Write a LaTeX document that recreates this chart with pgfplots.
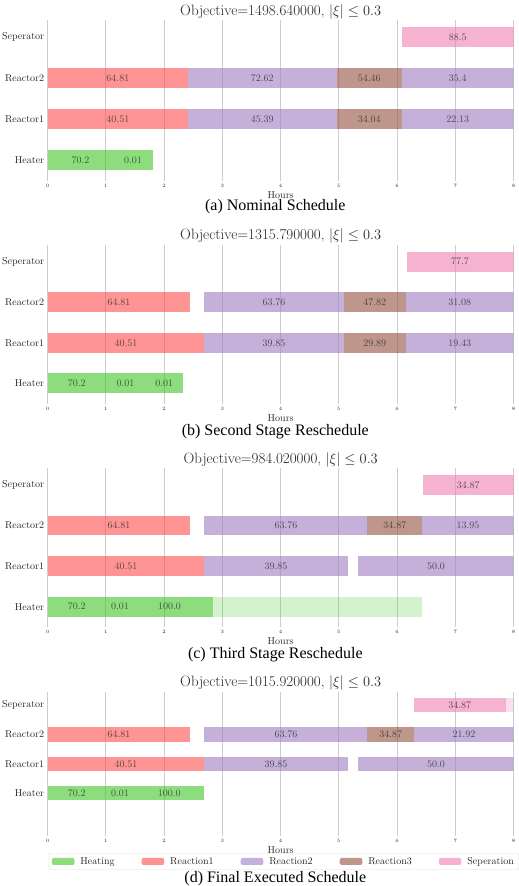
\documentclass[border=0pt]{standalone}
\usepackage{fontspec}
\usepackage{pgfplots}
\pgfplotsset{compat=1.18}
\newfontfamily\capfont{Liberation Serif}

% task colours (drawn at 60% opacity)
\definecolor{cheat}{RGB}{65,197,40}
\definecolor{cr1}{RGB}{255,76,76}
\definecolor{cr2}{RGB}{157,124,190}
\definecolor{cr3}{RGB}{148,80,63}
\definecolor{csep}{RGB}{238,128,177}
\definecolor{txt}{RGB}{38,38,38}
\definecolor{gridc}{RGB}{205,205,205}

\def\bw{19.7pt}
\pgfplotsset{
  seg/.style={forget plot, mark=none, draw=#1, draw opacity=0.6, line width=\bw, line cap=butt},
  patch/.style={legend image code/.code={\fill[draw=none, ##1] (0pt,-3.5pt) rectangle (22.6pt,3.5pt);}},
  gantt/.style={
    scale only axis, width=466pt,
    xmin=0, xmax=8,
    xtick={0,1,...,8}, ytick={0,1,2,3},
    yticklabels={Heater,Reactor1,Reactor2,Seperator},
    xmajorgrids, grid style={gridc, line width=0.9pt},
    axis line style={draw=none},
    major tick length=0pt,
    tick label style={text=txt},
    xticklabel style={font=\fontsize{4}{4}\selectfont},
    yticklabel style={font=\fontsize{10}{12}\selectfont},
    xlabel={Hours},
    xlabel style={font=\fontsize{10}{12}\selectfont, text=txt, inner sep=1pt, yshift=0.5pt},
    title style={font=\fontsize{15}{17}\selectfont, text=txt, at={(0.5,1)}, anchor=center},
  },
  lbl/.style={forget plot, only marks, mark=none, nodes near coords,
    point meta=explicit symbolic, nodes near coords align=center,
    every node near coord/.append style={font=\fontsize{10}{12}\selectfont, text=txt, text opacity=0.75, inner sep=0pt}},
}
% one task: colour, row, start, end
\newcommand\task[4]{\addplot[seg=#1] coordinates {(#3,#2) (#4,#2)};}
\newcommand\capt{\capfont\fontsize{16}{19}\selectfont}
\tikzset{caption/.style={font=\capt, inner sep=0pt}}

\begin{document}
\begin{tikzpicture}
\useasboundingbox (0,0) rectangle (519pt,-886pt);

% ---------------- (a) nominal schedule
\begin{axis}[gantt, at={(47.7pt,-20pt)}, anchor=north west, height=160.5pt,
  ymin=-0.5, ymax=3.42, title style={yshift=1.7pt},
  title={Objective=1498.640000, $|\xi| \leq 0.3$}]
\addplot[lbl] table[meta=t, row sep=\\]{
x y t\\ 0.565 0 70.2\\ 1.465 0 0.01\\
1.205 1 40.51\\ 3.685 1 45.39\\ 5.52 1 34.04\\ 7.04 1 22.13\\
1.205 2 64.81\\ 3.685 2 72.62\\ 5.52 2 54.46\\ 7.04 2 35.4\\
7.04 3 88.5\\
};
\task{cheat}{0}{0}{1.13}
\task{cheat}{0}{1.13}{1.80}
\task{cr1}{1}{0}{2.41}
\task{cr2}{1}{2.41}{4.96}
\task{cr3}{1}{4.96}{6.08}
\task{cr2}{1}{6.08}{8}
\task{cr1}{2}{0}{2.41}
\task{cr2}{2}{2.41}{4.96}
\task{cr3}{2}{4.96}{6.08}
\task{cr2}{2}{6.08}{8}
\task{csep}{3}{6.08}{8}
\end{axis}
\node[caption] at (275.3pt,-207pt) {(a) Nominal Schedule};

% ---------------- (b) second stage
\begin{axis}[gantt, at={(47.7pt,-244.7pt)}, anchor=north west, height=158.9pt,
  ymin=-0.5, ymax=3.42, title style={yshift=3pt},
  title={Objective=1315.790000, $|\xi| \leq 0.3$}]
\addplot[lbl] table[meta=t, row sep=\\]{
x y t\\ 0.5 0 70.2\\ 1.335 0 0.01\\ 2.0 0 0.01\\
1.345 1 40.51\\ 3.885 1 39.85\\ 5.615 1 29.89\\ 7.075 1 19.43\\
1.225 2 64.81\\ 3.885 2 63.76\\ 5.615 2 47.82\\ 7.075 2 31.08\\
7.08 3 77.7\\
};
\task{cheat}{0}{0}{1}
\task{cheat}{0}{1}{1.67}
\task{cheat}{0}{1.67}{2.33}
\task{cr1}{1}{0}{2.69}
\task{cr2}{1}{2.69}{5.08}
\task{cr3}{1}{5.08}{6.15}
\task{cr2}{1}{6.15}{8}
\task{cr1}{2}{0}{2.45}
\task{cr2}{2}{2.69}{5.08}
\task{cr3}{2}{5.08}{6.15}
\task{cr2}{2}{6.15}{8}
\task{csep}{3}{6.16}{8}
\end{axis}
\node[caption] at (275.3pt,-431.3pt) {(b) Second Stage Reschedule};

% ---------------- (c) third stage
\begin{axis}[gantt, at={(47.7pt,-468pt)}, anchor=north west, height=159pt,
  ymin=-0.5, ymax=3.42, title style={yshift=2pt},
  title={Objective=984.020000, $|\xi| \leq 0.3$}]
\addplot[lbl] table[meta=t, row sep=\\]{
x y t\\ 0.5 0 70.2\\ 1.24 0 0.01\\ 2.09 0 100.0\\
1.345 1 40.51\\ 3.92 1 39.85\\ 6.665 1 50.0\\
1.225 2 64.81\\ 4.09 2 63.76\\ 5.96 2 34.87\\ 7.215 2 13.95\\
7.22 3 34.87\\
};
\task{cheat}{0}{0}{1}
\task{cheat}{0}{1}{1.48}
\task{cheat}{0}{1.48}{2.83}
\addplot[seg=cheat, draw opacity=0.23] coordinates {(2.83,0) (6.43,0)};
\task{cr1}{1}{0}{2.69}
\task{cr2}{1}{2.69}{5.15}
\task{cr2}{1}{5.33}{8}
\task{cr1}{2}{0}{2.45}
\task{cr2}{2}{2.69}{5.49}
\task{cr3}{2}{5.49}{6.43}
\task{cr2}{2}{6.43}{8}
\task{csep}{3}{6.44}{8}
\end{axis}
\node[caption] at (275.3pt,-654.2pt) {(c) Third Stage Reschedule};

% ---------------- (d) final executed schedule
\def\bw{14.3pt}
\begin{axis}[gantt, at={(47.7pt,-691.8pt)}, anchor=north west, height=144.2pt,
  ymin=-1.45, ymax=3.45, title style={yshift=2.5pt},
  title={Objective=1015.920000, $|\xi| \leq 0.3$},
  legend columns=5,
  legend style={at={(axis description cs:0.002,-0.118)}, anchor=north west,
    draw=gray!25, rounded corners=2pt, fill=white, text=txt,
    font=\fontsize{10}{12}\selectfont,
    /tikz/every odd column/.append style={column sep=4pt},
    /tikz/every even column/.append style={column sep=25pt}}]
\addplot[lbl] table[meta=t, row sep=\\]{
x y t\\ 0.5 0 70.2\\ 1.24 0 0.01\\ 2.085 0 100.0\\
1.345 1 40.51\\ 3.92 1 39.85\\ 6.665 1 50.0\\
1.225 2 64.81\\ 4.09 2 63.76\\ 5.89 2 34.87\\ 7.145 2 21.92\\
7.075 3 34.87\\
};
\task{cheat}{0}{0}{1}
\task{cheat}{0}{1}{1.48}
\task{cheat}{0}{1.48}{2.69}
\task{cr1}{1}{0}{2.69}
\task{cr2}{1}{2.69}{5.15}
\task{cr2}{1}{5.33}{8}
\task{cr1}{2}{0}{2.45}
\task{cr2}{2}{2.69}{5.49}
\task{cr3}{2}{5.49}{6.29}
\task{cr2}{2}{6.29}{8}
\task{csep}{3}{6.29}{7.86}
\addplot[seg=csep, draw opacity=0.25] coordinates {(7.86,3) (8,3)};
\addlegendimage{patch, fill=cheat, fill opacity=0.6}
\addlegendentry{Heating}
\addlegendimage{patch, fill=cr1, fill opacity=0.6}
\addlegendentry{Reaction1}
\addlegendimage{patch, fill=cr2, fill opacity=0.6}
\addlegendentry{Reaction2}
\addlegendimage{patch, fill=cr3, fill opacity=0.6}
\addlegendentry{Reaction3}
\addlegendimage{patch, fill=csep, fill opacity=0.6}
\addlegendentry{Seperation}
\end{axis}
\node[caption] at (275.3pt,-878.5pt) {(d) Final Executed Schedule};
\end{tikzpicture}
\end{document}
